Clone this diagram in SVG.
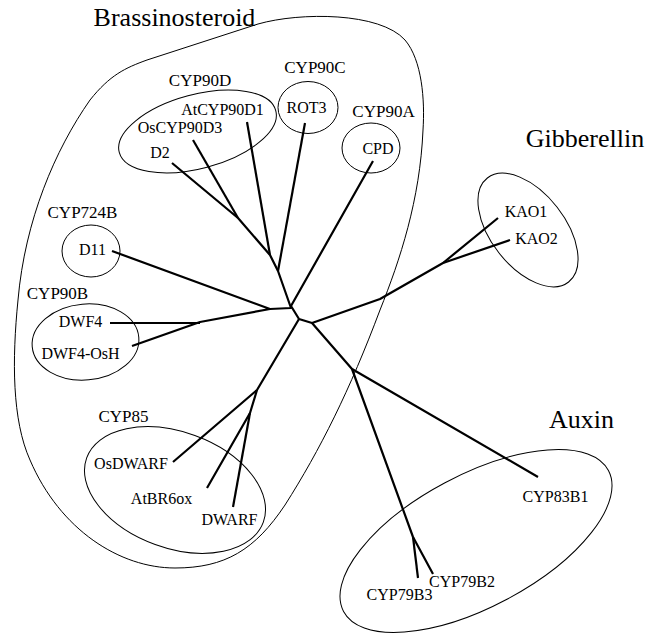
<svg xmlns="http://www.w3.org/2000/svg" width="648" height="634" viewBox="0 0 648 634">
<style>
.bg{fill:#ffffff}
.outline{fill:none;stroke:#000;stroke-width:1}
.br{fill:none;stroke:#000;stroke-width:2.2;stroke-linejoin:round;stroke-linecap:butt}
.t{fill:#000;text-anchor:middle}
.big{font-size:26px}
.grp{font-size:17px}
.leaf{font-size:16px}
</style>
<rect class="bg" x="0" y="0" width="648" height="634"/>

<g font-family="'Liberation Serif', 'Times New Roman', 'DejaVu Serif', serif">
<g id="brassinosteroid">
  <path class="outline" d="M147,60 L258,24 C300,12 380,12 405,40 C422,60 425,100 423,130 C420,200 400,260 380,310 C350,390 320,450 285,505 C255,550 225,568 175,568 C120,568 60,530 30,460 C12,420 12,360 18,300 C25,220 55,150 90,100 C110,75 125,68 147,60 Z"/>
  <text class="t big" x="174.5" y="26">Brassinosteroid</text>
</g>
<g id="gibberellin">
  <ellipse class="outline" cx="528" cy="230" rx="66" ry="37" transform="rotate(52 528 230)"/>
  <text class="t big" x="585" y="147">Gibberellin</text>
</g>
<g id="auxin">
  <ellipse class="outline" cx="476" cy="541" rx="150" ry="66" transform="rotate(-28 476 541)"/>
  <text class="t big" x="581.5" y="428">Auxin</text>
</g>

<g id="cyp90d">
  <ellipse class="outline" cx="197.5" cy="131.5" rx="81" ry="37" transform="rotate(-15 197.5 131.5)"/>
  <text class="t grp" x="200" y="86">CYP90D</text>
</g>
<g id="cyp90c">
  <ellipse class="outline" cx="308" cy="107.5" rx="30" ry="26"/>
  <text class="t grp" x="315" y="73">CYP90C</text>
</g>
<g id="cyp90a">
  <ellipse class="outline" cx="371" cy="148" rx="29" ry="25"/>
  <text class="t grp" x="383.5" y="117">CYP90A</text>
</g>
<g id="cyp724b">
  <ellipse class="outline" cx="91" cy="251" rx="29" ry="26"/>
  <text class="t grp" x="82.5" y="218">CYP724B</text>
</g>
<g id="cyp90b">
  <ellipse class="outline" cx="85.5" cy="342" rx="53.5" ry="38" transform="rotate(-5 85.5 342)"/>
  <text class="t grp" x="57.5" y="299">CYP90B</text>
</g>
<g id="cyp85">
  <ellipse class="outline" cx="175" cy="490" rx="94" ry="58" transform="rotate(20 175 490)"/>
  <text class="t grp" x="123.5" y="422">CYP85</text>
</g>

<g id="connectors">
  <polyline class="br" points="270,309 291,308 278,271 270,255 238,218 172,163"/>
  <line class="br" x1="238" y1="218" x2="193" y2="140"/>
  <line class="br" x1="270" y1="255" x2="247" y2="122"/>
  <line class="br" x1="278" y1="271" x2="305" y2="123"/>
  <polyline class="br" points="373,161 291,306 299,319 312,323 380,299 443,263 498,218"/>
  <line class="br" x1="443" y1="263" x2="510" y2="240"/>
  <polyline class="br" points="312,323 352,369 538,477"/>
  <polyline class="br" points="352,369 413,537 433,574"/>
  <line class="br" x1="413" y1="537" x2="418" y2="578"/>
  <polyline class="br" points="299,319 257,390 173,462"/>
  <polyline class="br" points="257,390 250,413 207,488"/>
  <line class="br" x1="250" y1="413" x2="233" y2="507"/>
  <polyline class="br" points="112,251 270,309 200,322 132,346"/>
  <line class="br" x1="200" y1="323" x2="110" y2="323"/>
</g>

<g id="AtCYP90D1"><text class="t leaf" x="222.5" y="115">AtCYP90D1</text></g>
<g id="OsCYP90D3"><text class="t leaf" x="180" y="133">OsCYP90D3</text></g>
<g id="D2"><text class="t leaf" x="160" y="158">D2</text></g>
<g id="ROT3"><text class="t leaf" x="306.5" y="113">ROT3</text></g>
<g id="CPD"><text class="t leaf" x="378" y="154">CPD</text></g>
<g id="D11"><text class="t leaf" x="92.5" y="255">D11</text></g>
<g id="DWF4"><text class="t leaf" x="80.5" y="327">DWF4</text></g>
<g id="DWF4-OsH"><text class="t leaf" x="80.5" y="359">DWF4-OsH</text></g>
<g id="OsDWARF"><text class="t leaf" x="131" y="469">OsDWARF</text></g>
<g id="AtBR6ox"><text class="t leaf" x="161.5" y="504">AtBR6ox</text></g>
<g id="DWARF"><text class="t leaf" x="229.5" y="525">DWARF</text></g>
<g id="KAO1"><text class="t leaf" x="526" y="217">KAO1</text></g>
<g id="KAO2"><text class="t leaf" x="536.5" y="244">KAO2</text></g>
<g id="CYP83B1"><text class="t leaf" x="555.5" y="502">CYP83B1</text></g>
<g id="CYP79B2"><text class="t leaf" x="462" y="587">CYP79B2</text></g>
<g id="CYP79B3"><text class="t leaf" x="399.5" y="600">CYP79B3</text></g>
</g>
</svg>
